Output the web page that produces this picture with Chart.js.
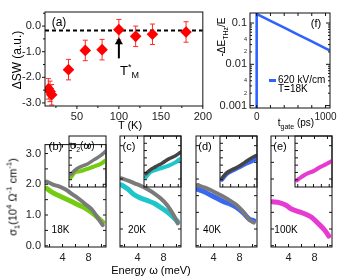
<!DOCTYPE html>
<html>
<head>
<meta charset="utf-8">
<script src="https://cdn.jsdelivr.net/npm/chart.js@4.4.1/dist/chart.umd.min.js"></script>
<style>
  body { margin: 0; background: #fff; }
  #fig { position: relative; width: 345px; height: 278px; overflow: hidden; font-family: "Liberation Sans", Arial, sans-serif; color: #000; }
  #fig canvas { position: absolute; }
  .t { position: absolute; white-space: nowrap; line-height: 1; transform: translate(-50%, -50%); }
  .l { position: absolute; white-space: nowrap; line-height: 1; transform: translate(0, -50%); }
  .r { transform: translate(-50%, -50%) rotate(-90deg); }
  sub, sup { font-size: 70%; line-height: 0; }
</style>
</head>
<body>
<div id="fig">
  <canvas id="cA"></canvas>
  <canvas id="cF"></canvas>
  <canvas id="cB"></canvas>
  <canvas id="cC"></canvas>
  <canvas id="cD"></canvas>
  <canvas id="cE"></canvas>
  <canvas id="iB"></canvas>
  <canvas id="iC"></canvas>
  <canvas id="iD"></canvas>
  <canvas id="iE"></canvas>

  <div class="t" style="left:59px;top:22px;font-size:12px">(a)</div>
  <div class="t r" style="left:17px;top:60px;font-size:12px">&Delta;SW (a.u.)</div>
  <div class="l" style="left:120px;top:70px;font-size:13px">T<span style="font-size:9px;position:relative;top:-5px">*</span><span style="font-size:9px;position:relative;top:3px">M</span></div>
  <div class="t" style="left:130px;top:125px;font-size:11px">T (K)</div>

  <div class="t r" style="left:222px;top:37px;font-size:10px">-&Delta;E<sub>THz</sub>/E</div>
  <div class="t" style="left:316px;top:23px;font-size:11px">(f)</div>
  <div style="position:absolute;left:269px;top:79px;width:7px;height:2.5px;background:#2f62ff"></div>
  <div class="l" style="left:278px;top:80px;font-size:10px">620 kV/cm</div>
  <div class="l" style="left:278px;top:89px;font-size:10px">T=18K</div>
  <div class="t" style="left:296px;top:123px;font-size:10px">t<sub>gate</sub> (ps)</div>

  <div class="t" style="left:55.5px;top:146px;font-size:11px">(b)</div>
  <div class="t" style="left:129px;top:146px;font-size:11px">(c)</div>
  <div class="t" style="left:205px;top:146px;font-size:11px">(d)</div>
  <div class="t" style="left:280px;top:146px;font-size:11px">(e)</div>
  <div class="l" style="left:70px;top:146px;font-size:10px">&sigma;<sub>2</sub>(&omega;)</div>
  <div class="t" style="left:60.5px;top:230px;font-size:10px">18K</div>
  <div class="t" style="left:137px;top:230px;font-size:10px">20K</div>
  <div class="t" style="left:212px;top:230px;font-size:10px">40K</div>
  <div class="t" style="left:286px;top:230px;font-size:10px">100K</div>
  <div class="t r" style="left:13px;top:197px;font-size:11px">&sigma;<sub>1</sub>(10<sup>4</sup> &Omega;<sup>-1</sup> cm<sup>-1</sup>)</div>
  <div class="t" style="left:151px;top:270px;font-size:11px">Energy &omega; (meV)</div>
</div>

<script>
// panel (a): spectral weight change vs temperature
const tempK = [16, 18, 20, 40, 60, 80, 100, 120, 140, 180];
const deltaSW = [-2.45, -2.55, -2.68, -1.70, -0.95, -0.92, -0.14, -0.40, -0.32, -0.23];
const deltaSWErr = [0.4, 0.4, 0.4, 0.4, 0.4, 0.4, 0.4, 0.4, 0.4, 0.4];
const swBaseline = -0.17;
const tStarK = 100;
const arrowFrom = -1.26, arrowTo = -0.44;

// panel (f): transient THz field change
const tGate = [0, 0, 20, 200, 400, 600, 800, 1000, 1060];
const dEoverE = [0.0005, 0.165, 0.16, 0.113, 0.0773, 0.0526, 0.0358, 0.0243, 0.0219];
const fTickVals = [0.001, 0.002, 0.004, 0.01, 0.02, 0.04, 0.1];
const fTickLabels = ['0.001', '2', '4', '0.01', '2', '4', '0.1'];

// panels (b)-(e): sigma1, equilibrium (gray) vs pumped (colour)
const energy = [1.55, 2.55, 3.55, 4.55, 5.55, 6.55, 7.55, 8.55, 9.55, 10.2];
const s1Eq18 = [2.09, 1.99, 1.92, 1.82, 1.67, 1.52, 1.35, 1.17, 0.87, 0.67];
const s1Pump18 = [1.87, 1.72, 1.62, 1.52, 1.42, 1.32, 1.22, 1.07, 0.89, 0.77];
const s1Eq20 = [2.02, 1.95, 1.87, 1.79, 1.69, 1.57, 1.42, 1.22, 0.92, 0.67];
const s1Pump20 = [1.82, 1.69, 1.52, 1.42, 1.35, 1.27, 1.15, 1.02, 0.85, 0.72];
const s1Eq40 = [1.82, 1.75, 1.67, 1.57, 1.47, 1.35, 1.22, 1.02, 0.77, 0.69];
const s1Pump40 = [1.69, 1.62, 1.52, 1.42, 1.32, 1.25, 1.15, 0.99, 0.79, 0.75];
const s1Pump100 = [1.32, 1.29, 1.22, 1.09, 1.02, 0.95, 0.85, 0.67, 0.47, 0.29];

// insets: sigma2 (arbitrary units)
const insetEnergy = [1.8, 2.9, 4.3, 6.0, 7.6, 9.3, 10.5];
const s2Eq18 = [0.86, 1.18, 1.40, 1.58, 1.86, 2.15, 2.44];
const s2Pump18 = [0.68, 1.02, 1.09, 1.25, 1.40, 1.58, 1.81];
const s2Eq20 = [0.91, 1.18, 1.40, 1.65, 1.93, 2.15, 2.37];
const s2Pump20 = [0.68, 1.02, 1.18, 1.32, 1.47, 1.69, 1.93];
const s2Eq40 = [0.61, 0.95, 1.18, 1.40, 1.69, 1.99, 2.15];
const s2Pump40 = [0.50, 0.86, 1.09, 1.32, 1.54, 1.76, 1.93];
const s2Pump100 = [0.46, 0.68, 0.91, 1.09, 1.35, 1.58, 1.76];

const FONT = 'Liberation Sans, Arial, sans-serif';
const frames = {};

// box around the plot area plus tick marks placed through the scales
Chart.register({
  id: 'frame',
  afterDraw(chart) {
    const f = frames[chart.canvas.id];
    if (!f) return;
    const { ctx, chartArea: a } = chart;
    ctx.save();
    ctx.strokeStyle = '#111';
    ctx.lineWidth = 1;
    ctx.strokeRect(a.left, a.top, a.right - a.left, a.bottom - a.top);
    f.forEach(m => {
      const s = chart.scales[m.axis];
      const d = m.out ? -m.len : m.len;
      ctx.beginPath();
      m.at.forEach(v => {
        const p = s.getPixelForValue(v);
        m.sides.split('').forEach(side => {
          if (side === 'l') { ctx.moveTo(a.left, p); ctx.lineTo(a.left + d, p); }
          if (side === 'r') { ctx.moveTo(a.right, p); ctx.lineTo(a.right - d, p); }
          if (side === 'b') { ctx.moveTo(p, a.bottom); ctx.lineTo(p, a.bottom - d); }
          if (side === 't') { ctx.moveTo(p, a.top); ctx.lineTo(p, a.top + d); }
        });
      });
      ctx.stroke();
    });
    ctx.restore();
  }
});

function place(id, x, y, w, h, pad) {
  const c = document.getElementById(id);
  c.width = w + pad.l + pad.r;
  c.height = h + pad.t + pad.b;
  c.style.left = (x - pad.l) + 'px';
  c.style.top = (y - pad.t) + 'px';
  return c;
}

function axis(min, max, ticks, extra) {
  return Object.assign({
    type: 'linear', min, max,
    afterBuildTicks: s => { s.ticks = ticks.map(v => ({ value: v })); },
    grid: { display: false, drawTicks: false },
    border: { display: false }
  }, extra);
}

const base = {
  responsive: false, animation: false, devicePixelRatio: 1,
  plugins: { legend: { display: false }, tooltip: { enabled: false } }
};

// ---- panel (a)
const pA = { l: 45, t: 12, r: 2, b: 14 };
frames.cA = [
  { axis: 'y', at: [0, -1, -2, -3], sides: 'l', len: 3, out: true },
  { axis: 'y', at: [0.5, -0.5, -1.5, -2.5], sides: 'l', len: 2, out: true },
  { axis: 'x', at: [50, 100, 150, 200], sides: 'b', len: 3, out: true },
  { axis: 'x', at: [25, 75, 125, 175], sides: 'b', len: 2, out: true }
];
new Chart(place('cA', 45, 12, 169, 94, pA), {
  type: 'scatter',
  data: {
    datasets: [
      {
        data: tempK.map((t, i) => ({ x: t, y: deltaSW[i] })),
        pointStyle: 'rectRot', pointRadius: 5.8, backgroundColor: '#ff0000', borderColor: '#ff0000', borderWidth: 0
      },
      {
        type: 'line', data: [{ x: 12, y: swBaseline }, { x: 200, y: swBaseline }],
        borderColor: '#000', borderWidth: 2, borderDash: [4, 3], pointRadius: 0
      }
    ]
  },
  options: Object.assign({}, base, {
    layout: { padding: { top: pA.t, right: pA.r, left: 0, bottom: 0 } },
    scales: {
      x: axis(12, 200, [50, 100, 150, 200], {
        ticks: { font: { family: FONT, size: 11 }, color: '#222', padding: 4, maxRotation: 0, autoSkip: false },
        afterFit: s => { s.height = pA.b; }
      }),
      y: axis(-3.12, 0.55, [0, -1, -2, -3], {
        ticks: { font: { family: FONT, size: 11 }, color: '#222', padding: 4, callback: v => v.toFixed(1) },
        afterFit: s => { s.width = pA.l; }
      })
    }
  }),
  plugins: [
    {
      id: 'errbars',
      beforeDatasetsDraw(chart) {
        const { ctx, scales: { x, y } } = chart;
        ctx.save();
        ctx.strokeStyle = '#ff2a2a';
        ctx.lineWidth = 1;
        ctx.beginPath();
        tempK.forEach((t, i) => {
          const px = x.getPixelForValue(t);
          const hi = y.getPixelForValue(deltaSW[i] + deltaSWErr[i]);
          const lo = y.getPixelForValue(deltaSW[i] - deltaSWErr[i]);
          ctx.moveTo(px, hi); ctx.lineTo(px, lo);
          ctx.moveTo(px - 2.5, hi); ctx.lineTo(px + 2.5, hi);
          ctx.moveTo(px - 2.5, lo); ctx.lineTo(px + 2.5, lo);
        });
        ctx.stroke();
        ctx.restore();
      }
    },
    {
      id: 'arrow',
      afterDatasetsDraw(chart) {
        const { ctx, scales: { x, y } } = chart;
        const px = x.getPixelForValue(tStarK);
        const y0 = y.getPixelForValue(arrowFrom), y1 = y.getPixelForValue(arrowTo);
        ctx.save();
        ctx.strokeStyle = '#000';
        ctx.fillStyle = '#000';
        ctx.lineWidth = 2;
        ctx.beginPath(); ctx.moveTo(px, y0); ctx.lineTo(px, y1 + 6); ctx.stroke();
        ctx.beginPath(); ctx.moveTo(px, y1); ctx.lineTo(px - 4, y1 + 7); ctx.lineTo(px + 4, y1 + 7); ctx.closePath(); ctx.fill();
        ctx.restore();
      }
    }
  ]
});

// ---- panel (f)
const pF = { l: 38, t: 13, r: 15, b: 20 };
frames.cF = [
  { axis: 'y', at: [0.001, 0.01, 0.1], sides: 'lr', len: 4 },
  { axis: 'y', at: [0.002, 0.003, 0.004, 0.005, 0.006, 0.007, 0.008, 0.009, 0.02, 0.03, 0.04, 0.05, 0.06, 0.07, 0.08, 0.09], sides: 'lr', len: 2 },
  { axis: 'x', at: [0, 200, 400, 600, 800, 1000], sides: 'tb', len: 3 }
];
new Chart(place('cF', 250, 13, 80, 95, pF), {
  type: 'line',
  data: {
    datasets: [{
      data: tGate.map((t, i) => ({ x: t, y: dEoverE[i] })),
      borderColor: '#2f62ff', borderWidth: 2.6, pointRadius: 0, tension: 0
    }]
  },
  options: Object.assign({}, base, {
    layout: { padding: { top: pF.t, right: pF.r, left: 0, bottom: 0 } },
    scales: {
      x: axis(-97, 1065, [0, 1000], {
        ticks: { font: { family: FONT, size: 10 }, color: '#222', padding: 3, maxRotation: 0, autoSkip: false, callback: v => String(v) },
        afterFit: s => { s.height = pF.b; }
      }),
      y: {
        type: 'logarithmic', min: 0.000875, max: 0.175,
        afterBuildTicks: s => { s.ticks = fTickVals.map(v => ({ value: v })); },
        grid: { display: false, drawTicks: false },
        border: { display: false },
        ticks: {
          autoSkip: false, padding: 3, color: '#222',
          font: c => ({ family: FONT, size: fTickLabels[c.index] && fTickLabels[c.index].length > 1 ? 11 : 5.5 }),
          callback: (v, i) => fTickLabels[i]
        },
        afterFit: s => { s.width = pF.l; }
      }
    }
  })
});

// ---- panels (b)-(e)
const panelTop = 136, panelH = 111, panelW = 61;
const insetOffset = 24, insetH = 51;

function spectraPanel(id, left, showY, lines) {
  const pad = { l: showY ? 45 : 4, t: 2, r: 2, b: 16 };
  frames[id] = [
    { axis: 'y', at: [0, 0.5, 1, 1.5, 2, 2.5, 3], sides: 'lr', len: 3 },
    { axis: 'x', at: [2, 4, 6, 8, 10], sides: 'tb', len: 3 }
  ];
  new Chart(place(id, left, panelTop, panelW, panelH, pad), {
    type: 'line',
    data: {
      datasets: lines.map(ln => ({
        data: energy.map((e, i) => ({ x: e, y: ln.values[i] })),
        borderColor: ln.color, borderWidth: ln.width, pointRadius: 0, tension: 0.35,
        borderCapStyle: 'round', borderJoinStyle: 'round'
      }))
    },
    options: Object.assign({}, base, {
      layout: { padding: { top: pad.t, right: pad.r, left: 0, bottom: 0 } },
      scales: {
        x: axis(1.3, 10.7, [4, 8], {
          ticks: { font: { family: FONT, size: 11 }, color: '#222', padding: 4, maxRotation: 0, autoSkip: false },
          afterFit: s => { s.height = pad.b; }
        }),
        y: axis(-0.04, 3.29, [0, 1, 2, 3], {
          ticks: { display: showY, font: { family: FONT, size: 11 }, color: '#222', padding: 4, callback: v => v.toFixed(1) },
          afterFit: s => { s.width = pad.l; }
        })
      }
    })
  });
}

function insetPanel(id, left, lines) {
  const pad = { l: 1, t: 1, r: 1, b: 1 };
  frames[id] = [
    { axis: 'y', at: [0.5, 1, 1.5, 2, 2.5, 3], sides: 'l', len: 3 },
    { axis: 'x', at: [2, 4, 6, 8, 10], sides: 'b', len: 3 }
  ];
  new Chart(place(id, left + insetOffset, panelTop, panelW - insetOffset, insetH, pad), {
    type: 'line',
    data: {
      datasets: lines.map(ln => ({
        data: insetEnergy.map((e, i) => ({ x: e, y: ln.values[i] })),
        borderColor: ln.color, borderWidth: ln.width, pointRadius: 0, tension: 0.35,
        borderCapStyle: 'round', borderJoinStyle: 'round'
      }))
    },
    options: Object.assign({}, base, {
      layout: { padding: pad.t },
      scales: {
        x: { type: 'linear', min: 1.3, max: 10.7, display: false },
        y: { type: 'linear', min: 0, max: 3.5, display: false }
      }
    })
  });
}

const GRAY = '#7a7a7a', DARK = '#444444';
const GREEN = '#74cc12', CYAN = '#1ec6c9', BLUE = '#3b68f0', MAGENTA = '#e63ad0';
const lefts = [45, 120, 196, 271];

spectraPanel('cB', lefts[0], true, [{ values: s1Eq18, color: GRAY, width: 4 }, { values: s1Pump18, color: GREEN, width: 5 }]);
spectraPanel('cC', lefts[1], false, [{ values: s1Eq20, color: GRAY, width: 4 }, { values: s1Pump20, color: CYAN, width: 5 }]);
spectraPanel('cD', lefts[2], false, [{ values: s1Eq40, color: GRAY, width: 4 }, { values: s1Pump40, color: BLUE, width: 5 }]);
spectraPanel('cE', lefts[3], false, [{ values: s1Pump100, color: MAGENTA, width: 5 }]);

insetPanel('iB', lefts[0], [{ values: s2Eq18, color: GRAY, width: 3.5 }, { values: s2Pump18, color: GREEN, width: 4 }]);
insetPanel('iC', lefts[1], [{ values: s2Eq20, color: DARK, width: 3.5 }, { values: s2Pump20, color: CYAN, width: 4 }]);
insetPanel('iD', lefts[2], [{ values: s2Eq40, color: DARK, width: 3.5 }, { values: s2Pump40, color: BLUE, width: 4 }]);
insetPanel('iE', lefts[3], [{ values: s2Pump100, color: MAGENTA, width: 4 }]);
</script>
</body>
</html>
